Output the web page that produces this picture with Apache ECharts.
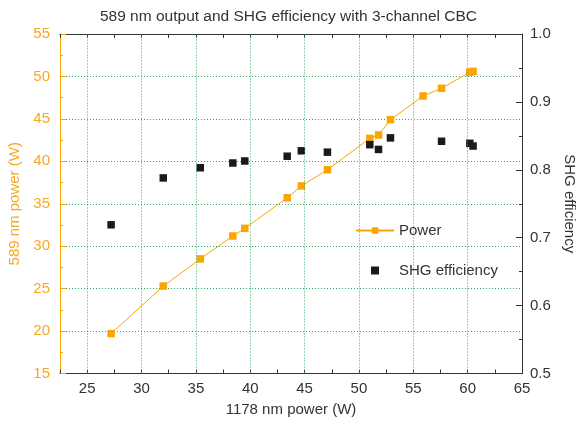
<!DOCTYPE html>
<html>
<head>
<meta charset="utf-8">
<script src="https://cdn.jsdelivr.net/npm/echarts@6/dist/echarts.min.js"></script>
<style>html,body{margin:0;padding:0;background:#fff}#c{width:577px;height:421px}</style>
</head>
<body>
<div id="c"></div>
<script>
const titleText = '589 nm output and SHG efficiency with 3-channel CBC';
const xName = '1178 nm power (W)';
const yLeftName = '589 nm power (W)';
const yRightName = 'SHG efficiency';
const powerX = [27.2, 32.0, 35.4, 38.4, 39.5, 43.4, 44.7, 47.1, 51.0, 51.8, 52.9, 55.9, 57.6, 60.2, 60.5];
const powerY = [19.7, 25.3, 28.5, 31.2, 32.1, 35.7, 37.1, 39.0, 42.7, 43.1, 44.9, 47.7, 48.6, 50.5, 50.6];
const shgX = [27.2, 32.0, 35.4, 38.4, 39.5, 43.4, 44.7, 47.1, 51.0, 51.8, 52.9, 57.6, 60.2, 60.5];
const shgY = [0.719, 0.788, 0.803, 0.810, 0.813, 0.820, 0.828, 0.826, 0.837, 0.830, 0.847, 0.842, 0.839, 0.835];
const xGridTicks = [25, 30, 35, 40, 45, 50, 55, 60];

const ORANGE = '#f9a602';
const ORANGE_TXT = '#f7a823';
const DARK = '#333333';
const GREEN = '#2fa862';
const FONT = 'Liberation Sans, Arial, sans-serif';

const chart = echarts.init(document.getElementById('c'), null, {renderer: 'canvas'});
chart.setOption({
  animation: false,
  backgroundColor: '#fff',
  title: {
    text: titleText, left: 'center', top: 4,
    textStyle: {fontSize: 15.5, fontWeight: 'normal', color: DARK, fontFamily: FONT}
  },
  grid: {left: 60, right: 55, top: 34, bottom: 47.5, containLabel: false, outerBoundsMode: 'none'},
  legend: {
    data: ['Power', {name: 'SHG efficiency', icon: 'path://M0,0h10v10h-10z'}],
    orient: 'vertical', left: 350, top: 218,
    itemWidth: 38, itemHeight: 8, itemGap: 25,
    symbolKeepAspect: true,
    textStyle: {fontSize: 15, color: DARK, fontFamily: FONT}
  },
  xAxis: [{
    type: 'value', position: 'bottom', min: 22.5, max: 65, interval: 2.5,
    name: xName, nameLocation: 'middle', nameGap: 29,
    nameTextStyle: {fontSize: 15, color: DARK, fontFamily: FONT},
    axisLine: {show: true, lineStyle: {color: DARK, width: 1}},
    axisTick: {show: true, inside: true, length: 4, lineStyle: {color: DARK}},
    axisLabel: {show: true, margin: 8, fontSize: 15, color: DARK, fontFamily: FONT,
      formatter: v => (Math.abs(v % 5) < 1e-9 ? String(v) : '')},
    splitLine: {show: false}
  }, {
    type: 'value', position: 'top', min: 22.5, max: 65, interval: 2.5,
    axisLine: {show: true, lineStyle: {color: DARK, width: 1}},
    axisTick: {show: true, inside: true, length: 4, lineStyle: {color: DARK}},
    axisLabel: {show: false},
    splitLine: {show: false}
  }],
  yAxis: [{
    type: 'value', position: 'left', min: 15, max: 55, interval: 5,
    name: yLeftName, nameLocation: 'middle', nameGap: 35, nameRotate: 90,
    nameTextStyle: {fontSize: 15, color: ORANGE_TXT, fontFamily: FONT},
    axisLine: {show: true, lineStyle: {color: ORANGE, width: 1}},
    axisTick: {show: true, inside: true, length: 6, lineStyle: {color: ORANGE}},
    minorTick: {show: true, splitNumber: 2, length: 3, lineStyle: {color: ORANGE}},
    axisLabel: {show: true, margin: 10, fontSize: 15, color: ORANGE_TXT, fontFamily: FONT},
    splitLine: {show: true, lineStyle: {color: GREEN, type: [1, 2], width: 1}}
  }, {
    type: 'value', position: 'right', min: 0.5, max: 1.0, interval: 0.1,
    name: yRightName, nameLocation: 'middle', nameGap: 38, nameRotate: -90,
    nameTextStyle: {fontSize: 15, color: DARK, fontFamily: FONT},
    axisLine: {show: true, lineStyle: {color: DARK, width: 1}},
    axisTick: {show: true, inside: true, length: 6, lineStyle: {color: DARK}},
    minorTick: {show: true, splitNumber: 2, length: 3, lineStyle: {color: DARK}},
    axisLabel: {show: true, margin: 8, fontSize: 15, color: DARK, fontFamily: FONT,
      formatter: v => v.toFixed(1)},
    splitLine: {show: false}
  }],
  series: [{
    name: 'xgrid', type: 'scatter', xAxisIndex: 0, yAxisIndex: 0, data: [], z: 1,
    silent: true,
    markLine: {
      silent: true, symbol: 'none', label: {show: false},
      lineStyle: {color: GREEN, type: [1, 2], width: 1},
      data: xGridTicks.map(v => ({xAxis: v}))
    }
  }, {
    name: 'Power', type: 'line', xAxisIndex: 0, yAxisIndex: 0, z: 3,
    data: powerX.map((x, i) => [x, powerY[i]]),
    symbol: 'rect', symbolSize: 7.5, showSymbol: true,
    lineStyle: {color: ORANGE, width: 1},
    itemStyle: {color: ORANGE}
  }, {
    name: 'SHG efficiency', type: 'scatter', xAxisIndex: 0, yAxisIndex: 1, z: 3,
    data: shgX.map((x, i) => [x, shgY[i]]),
    symbol: 'rect', symbolSize: 7.5,
    itemStyle: {color: '#1a1a1a', opacity: 1}
  }]
});
</script>
</body>
</html>
